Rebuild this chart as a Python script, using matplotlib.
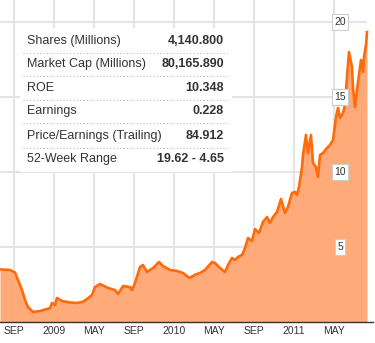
import matplotlib
matplotlib.use("Agg")
import matplotlib.pyplot as plt
from matplotlib.patches import Rectangle
from matplotlib.lines import Line2D

# months since 1 Sep 2008
months = [-1.4, -1.2, -0.4, 0.1, 0.4, 0.8, 1.1, 1.4, 1.9, 2.6,
          3.3, 3.6, 3.8, 4.1, 4.3, 4.8, 5.6, 6.3, 6.9, 7.3,
          7.8, 8.1, 8.6, 9.4, 10.1, 10.4, 10.9, 11.6, 11.8, 12.1,
          12.6, 12.9, 13.3, 13.9, 14.5, 14.9, 15.6, 16.3, 16.9, 17.4,
          17.6, 18.1, 18.6, 19.1, 19.8, 20.1, 20.6, 21.1, 21.4, 21.8,
          22.1, 22.4, 22.8, 23.1, 23.4, 23.8, 24.1, 24.5, 24.9, 25.3,
          25.6, 25.9, 26.3, 26.7, 27.1, 27.4, 27.8, 28.1, 28.3, 28.5,
          28.8, 28.9, 29.2, 29.4, 29.7, 29.9, 30.2, 30.4, 30.6, 30.9,
          31.3, 31.6, 31.9, 32.2, 32.4, 32.6, 32.9, 33.1, 33.3, 33.5,
          33.8, 33.9, 34.1, 34.3, 34.7, 34.9, 35.0, 35.2, 35.3]
prices = [3.5, 3.5, 3.47, 3.3, 2.8, 2.13, 1.47, 1.0, 0.67, 0.73,
          0.87, 0.93, 1.27, 1.13, 1.6, 1.4, 1.3, 1.27, 1.35, 1.53,
          1.8, 2.33, 2.53, 2.27, 2.13, 1.87, 2.4, 2.33, 2.13, 2.6,
          3.67, 3.8, 3.33, 3.6, 4.0, 3.73, 3.47, 3.4, 3.27, 3.0,
          2.95, 3.15, 3.27, 3.47, 4.0, 3.93, 3.6, 3.33, 3.8, 4.27,
          4.13, 4.33, 4.47, 4.93, 5.6, 5.4, 6.2, 5.93, 6.67, 7.0,
          6.6, 7.0, 7.33, 8.2, 7.27, 7.67, 8.6, 8.67, 8.47, 9.0,
          10.33, 11.13, 12.47, 11.27, 12.47, 10.6, 10.33, 9.67, 11.13, 11.27,
          11.6, 11.8, 12.13, 13.67, 14.27, 13.6, 13.93, 14.47, 16.33, 18.0,
          17.0, 15.6, 14.33, 15.47, 17.47, 16.67, 17.67, 18.47, 19.33]

tick_pos = [0, 4, 8, 12, 16, 20, 24, 28, 32]
tick_labels = ["SEP", "2009", "MAY", "SEP", "2010", "MAY", "SEP", "2011", "MAY"]
y_levels = [5, 10, 15, 20]

row_labels = ["Shares (Millions)", "Market Cap (Millions)", "ROE", "Earnings",
              "Price/Earnings (Trailing)", "52-Week Range"]
row_values = ["4,140.800", "80,165.890", "10.348", "0.228", "84.912", "19.62 - 4.65"]

W, H = 375, 343
fig = plt.figure(figsize=(W / 100, H / 100), dpi=100)
ax = fig.add_axes([0, 21 / H, 373 / W, 322 / H])
ax.set_xlim(-1.4, 35.9)
ax.set_ylim(0, 322 / 15)

grid_c = "#e4e4e4"
for t in tick_pos:
    ax.axvline(t, color=grid_c, lw=1.5, zorder=0)
ax.hlines(y_levels, months[0], months[-1], color=grid_c, lw=1.5, zorder=0)

ax.fill_between(months, prices, color="#ffaa78", lw=0, zorder=1)
ax.plot(months, prices, color="#ff6a0a", lw=1.9, zorder=2)

for v in y_levels:
    ax.text(32.6, v, str(v), ha="center", va="center", fontsize=7.5, color="#333333",
            family="Liberation Sans", zorder=4,
            bbox=dict(boxstyle="square,pad=0.25", fc="white", ec="#cccccc", lw=0.8))

for s in ["left", "right", "top"]:
    ax.spines[s].set_visible(False)
ax.spines["bottom"].set_color("#333333")
ax.spines["bottom"].set_linewidth(1)
ax.set_yticks([])
ax.set_xticks(tick_pos)
ax.set_xticklabels(tick_labels, fontsize=7.5, color="#333333", family="Liberation Sans")
ax.tick_params(axis="x", length=0, pad=3)

# info box
x0, y0, x1, y1 = 20, 28, 232, 172
fig.patches.append(Rectangle((x0 / W, 1 - y1 / H), (x1 - x0) / W, (y1 - y0) / H,
                             transform=fig.transFigure, fc="white", ec="none", zorder=5))
row_y = [41, 64, 88, 111, 136, 159]
for i, (lab, val) in enumerate(zip(row_labels, row_values)):
    yy = 1 - row_y[i] / H
    fig.text(27 / W, yy, lab, ha="left", va="center", fontsize=9, color="#333333",
             family="Liberation Sans", zorder=6)
    fig.text(224 / W, yy, val, ha="right", va="center", fontsize=9, color="#333333",
             family="Liberation Sans", weight="bold", zorder=6)
    if i < len(row_labels) - 1:
        ly = 1 - (row_y[i] + row_y[i + 1]) / 2 / H
        fig.lines.append(Line2D([23 / W, 227 / W], [ly, ly], transform=fig.transFigure,
                                color="#bbbbbb", lw=0.8, ls=(0, (1, 2)), zorder=6))

fig.savefig("out.png", dpi=100)
